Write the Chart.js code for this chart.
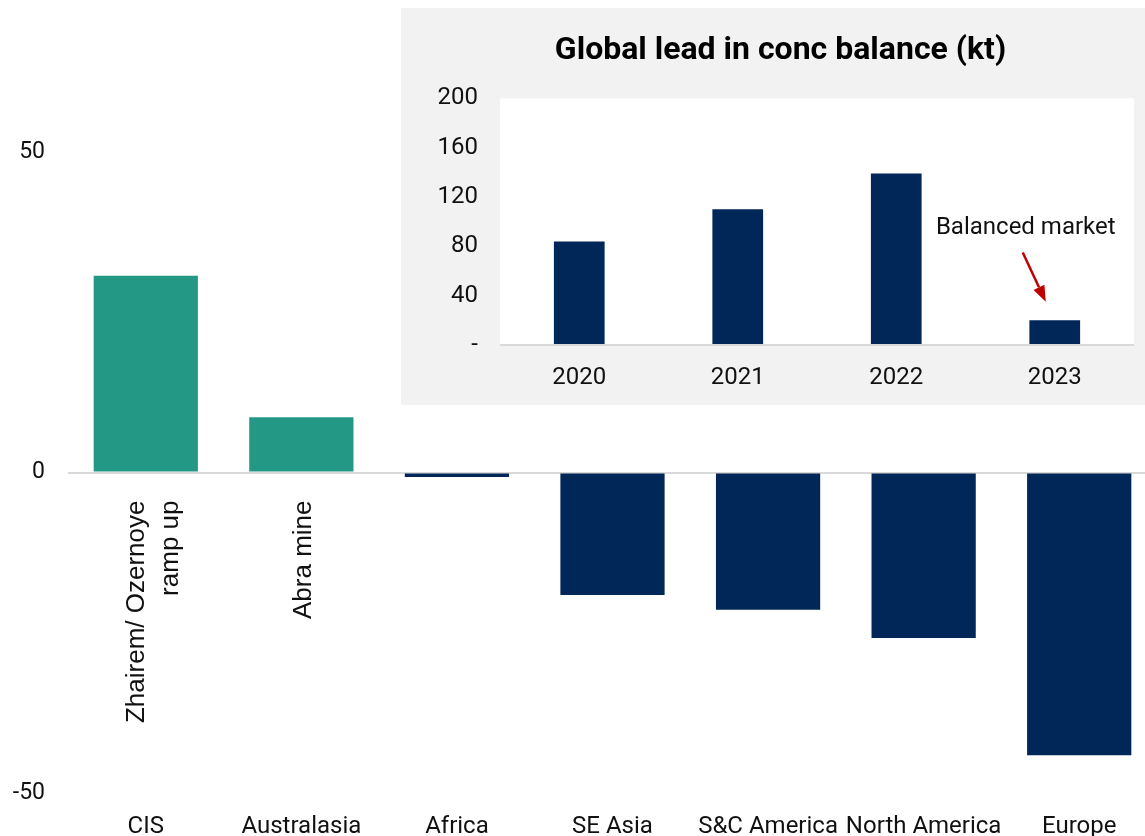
<!DOCTYPE html>
<html>
<head>
<meta charset="utf-8">
<script src="https://cdn.jsdelivr.net/npm/chart.js@4"></script>
<style>
  html, body { margin: 0; padding: 0; background: #fff; overflow: hidden; }
  #mainChart { position: absolute; left: 0; top: 0; }
  #inset { position: absolute; left: 401px; top: 8px; width: 744px; height: 397px; background: #f2f2f2; }
</style>
</head>
<body>
<canvas id="mainChart" width="1157" height="836"></canvas>
<div id="inset"><canvas id="balanceChart" width="744" height="397"></canvas></div>
<script>
// change in lead concentrate supply by region (kt)
const regions = ['CIS', 'Australasia', 'Africa', 'SE Asia', 'S&C America', 'North America', 'Europe'];
const regionChange = [30.7, 8.6, -0.7, -19.1, -21.4, -25.8, -44.1];
const regionNotes = [['Zhairem/ Ozernoye', 'ramp up'], ['Abra mine'], [], [], [], [], []];

// global balance, inset chart
const years = ['2020', '2021', '2022', '2023'];
const balance = [84, 110, 139, 20];
const balanceNote = 'Balanced market';

const TEAL = '#229885';
const NAVY = '#012658';
const TEXT = '#111';

Chart.defaults.font.family = 'Roboto';
Chart.defaults.color = TEXT;

const zeroLine = ctx => ctx.tick.value === 0 ? '#d9d9d9' : 'rgba(0,0,0,0)';

// rotated notes written under the zero line
const notesPlugin = {
    id: 'notes',
    afterDatasetsDraw(chart) {
        const { ctx, scales: { x, y } } = chart;
        ctx.save();
        ctx.font = '26px "Liberation Sans"';
        ctx.fillStyle = TEXT;
        ctx.textAlign = 'right';
        ctx.textBaseline = 'middle';
        regionNotes.forEach((lines, i) => {
            if (!lines.length) return;
            const px = x.getPixelForValue(i);
            const py = y.getPixelForValue(0) + 28;
            ctx.save();
            ctx.translate(px, py);
            ctx.rotate(-Math.PI / 2);
            lines.forEach((line, j) => {
                const off = (j - (lines.length - 1) / 2) * 34 + (lines.length > 1 ? 8 : 2);
                ctx.fillText(line, 0, off);
            });
            ctx.restore();
        });
        ctx.restore();
    }
};

new Chart(document.getElementById('mainChart'), {
    type: 'bar',
    data: {
        labels: regions,
        datasets: [{
            data: regionChange,
            backgroundColor: regionChange.map(v => v > 0 ? TEAL : NAVY),
            barPercentage: 0.67,
            categoryPercentage: 1
        }]
    },
    options: {
        responsive: false,
        animation: false,
        layout: { padding: { top: 152, left: 0, right: 0, bottom: 0 } },
        plugins: { legend: { display: false }, tooltip: { enabled: false } },
        scales: {
            x: {
                grid: { display: false, drawTicks: false },
                border: { display: false },
                ticks: { font: { size: 24 }, padding: 20, maxRotation: 0, autoSkip: false },
                afterFit: s => { s.height = 43; }
            },
            y: {
                min: -50,
                max: 50,
                grid: { color: zeroLine, lineWidth: 2, drawTicks: false },
                border: { display: false },
                ticks: { stepSize: 50, font: { size: 23 }, padding: 23 },
                afterFit: s => { s.width = 68; }
            }
        }
    },
    plugins: [notesPlugin]
});

// white plot area plus the arrow note over 2023
const insetPlugin = {
    id: 'insetDecor',
    beforeDraw(chart) {
        const { ctx, chartArea: a } = chart;
        ctx.save();
        ctx.fillStyle = '#fff';
        ctx.fillRect(a.left, a.top, a.right - a.left, a.bottom - a.top);
        ctx.restore();
    },
    afterDatasetsDraw(chart) {
        const { ctx, scales: { x, y } } = chart;
        const bx = x.getPixelForValue(3);
        ctx.save();
        ctx.font = '24px Roboto';
        ctx.fillStyle = TEXT;
        ctx.textAlign = 'center';
        ctx.textBaseline = 'middle';
        ctx.fillText(balanceNote, bx - 29, y.getPixelForValue(95));

        const x1 = bx - 32, y1 = y.getPixelForValue(75);
        const x2 = bx - 9, y2 = y.getPixelForValue(35);
        const ang = Math.atan2(y2 - y1, x2 - x1);
        const head = 16, half = 6;
        const hx = x2 - head * Math.cos(ang), hy = y2 - head * Math.sin(ang);
        ctx.strokeStyle = '#c00000';
        ctx.fillStyle = '#c00000';
        ctx.lineWidth = 2.5;
        ctx.beginPath();
        ctx.moveTo(x1, y1);
        ctx.lineTo(hx, hy);
        ctx.stroke();
        ctx.beginPath();
        ctx.moveTo(x2, y2);
        ctx.lineTo(hx + half * Math.sin(ang), hy - half * Math.cos(ang));
        ctx.lineTo(hx - half * Math.sin(ang), hy + half * Math.cos(ang));
        ctx.closePath();
        ctx.fill();
        ctx.restore();
    }
};

new Chart(document.getElementById('balanceChart'), {
    type: 'bar',
    data: {
        labels: years,
        datasets: [{
            data: balance,
            backgroundColor: NAVY,
            barPercentage: 0.32,
            categoryPercentage: 1
        }]
    },
    options: {
        responsive: false,
        animation: false,
        layout: { padding: { top: 0, left: 26, right: 11, bottom: 0 } },
        plugins: {
            legend: { display: false },
            tooltip: { enabled: false },
            title: {
                display: true,
                text: 'Global lead in conc balance (kt)',
                color: '#000',
                font: { size: 32, weight: 'bold' },
                padding: { top: 24, bottom: 28 }
            }
        },
        scales: {
            x: {
                grid: { display: false, drawTicks: false },
                border: { display: false },
                ticks: { font: { size: 24 }, padding: 19 },
                afterFit: s => { s.height = 60; }
            },
            y: {
                min: 0,
                max: 200,
                grid: { color: zeroLine, lineWidth: 2, drawTicks: false },
                border: { display: false },
                ticks: {
                    stepSize: 40,
                    font: { size: 24 },
                    padding: 22,
                    callback: v => v === 0 ? '-' : v
                },
                afterFit: s => { s.width = 73; }
            }
        }
    },
    plugins: [insetPlugin]
});
</script>
</body>
</html>
